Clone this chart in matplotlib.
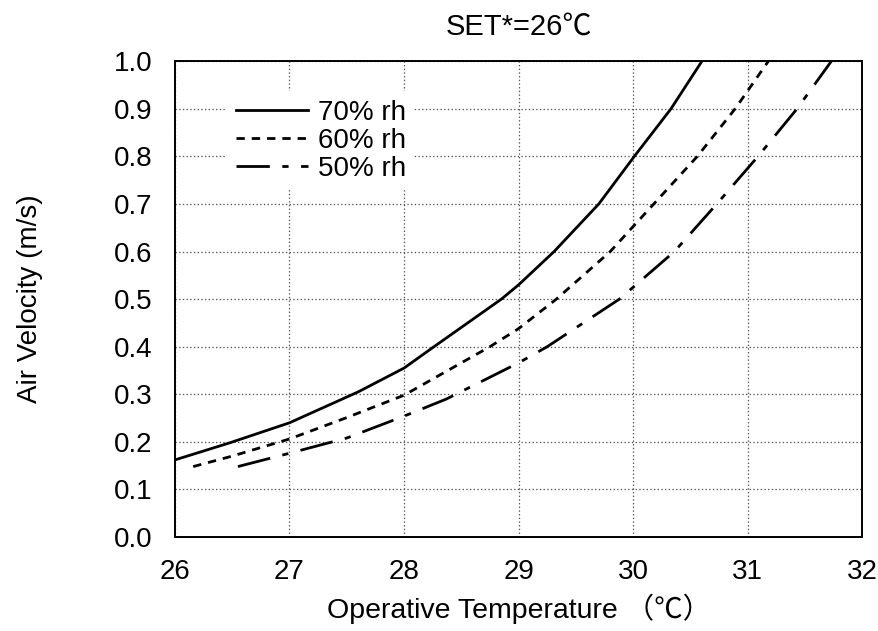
import matplotlib
matplotlib.use("Agg")
import matplotlib.pyplot as plt

# =====================
# data
# =====================
t70 = [26.0, 26.48, 27.0, 27.6, 28.0, 28.25, 28.85, 29.0, 29.31, 29.70, 30.01, 30.33, 30.60]
v70 = [0.162, 0.198, 0.24, 0.305, 0.355, 0.398, 0.50, 0.53, 0.60, 0.70, 0.80, 0.90, 1.00]

t60 = [26.16, 26.5, 27.0, 27.5, 28.0, 28.75, 29.0, 29.33, 29.80, 30.18, 30.56, 30.89, 31.18]
v60 = [0.148, 0.170, 0.206, 0.251, 0.298, 0.40, 0.438, 0.50, 0.60, 0.70, 0.80, 0.90, 1.00]

t50 = [26.55, 27.0, 27.5, 28.0, 28.37, 29.0, 29.25, 29.88, 30.36, 30.73, 31.09, 31.43, 31.73]
v50 = [0.148, 0.176, 0.208, 0.254, 0.29, 0.366, 0.40, 0.50, 0.60, 0.70, 0.80, 0.90, 1.00]

labels = ["70% rh", "60% rh", "50% rh"]
xticks = [26, 27, 28, 29, 30, 31, 32]
yticks = [0.0, 0.1, 0.2, 0.3, 0.4, 0.5, 0.6, 0.7, 0.8, 0.9, 1.0]

plt.rcParams['font.family'] = ['Liberation Sans', 'Noto Sans CJK JP', 'DejaVu Sans']
plt.rcParams['lines.scale_dashes'] = False

fig = plt.figure(figsize=(8.79, 6.31), dpi=100)
ax = fig.add_axes([0.199, 0.149, 0.782, 0.754])

ax.plot(t70, v70, color='black', lw=2.0, linestyle='-', label=labels[0])
ax.plot(t60, v60, color='black', lw=2.0, linestyle=(0, (6, 5)), label=labels[1])
ax.plot(t50, v50, color='black', lw=2.0, linestyle=(0, (24, 9, 4.5, 9)), label=labels[2])

ax.set_xlim(26, 32)
ax.set_ylim(0, 1.0)
ax.set_xticks(xticks)
ax.set_yticks(yticks)
ax.set_yticklabels([f"{v:.1f}" for v in yticks])
ax.tick_params(length=0, labelsize=20)
ax.tick_params(axis='y', pad=16)
ax.tick_params(axis='x', pad=16)

ax.grid(True, linestyle=':', color='#555555', lw=0.9)
for s in ax.spines.values():
    s.set_linewidth(1.4)

ax.set_title("SET*=26℃", fontsize=21, pad=19)
ax.set_xlabel("Operative Temperature （℃）", fontsize=20.5, labelpad=6)
ax.set_ylabel("Air Velocity (m/s)", fontsize=20, labelpad=51)

leg = ax.legend(loc='upper left', bbox_to_anchor=(0.056, 0.966), fontsize=20,
                frameon=True, facecolor='white', edgecolor='none', framealpha=1,
                fancybox=False, handlelength=2.6, handletextpad=0.35,
                labelspacing=0.08, borderpad=0.3)

fig.savefig("out.png", dpi=100)
